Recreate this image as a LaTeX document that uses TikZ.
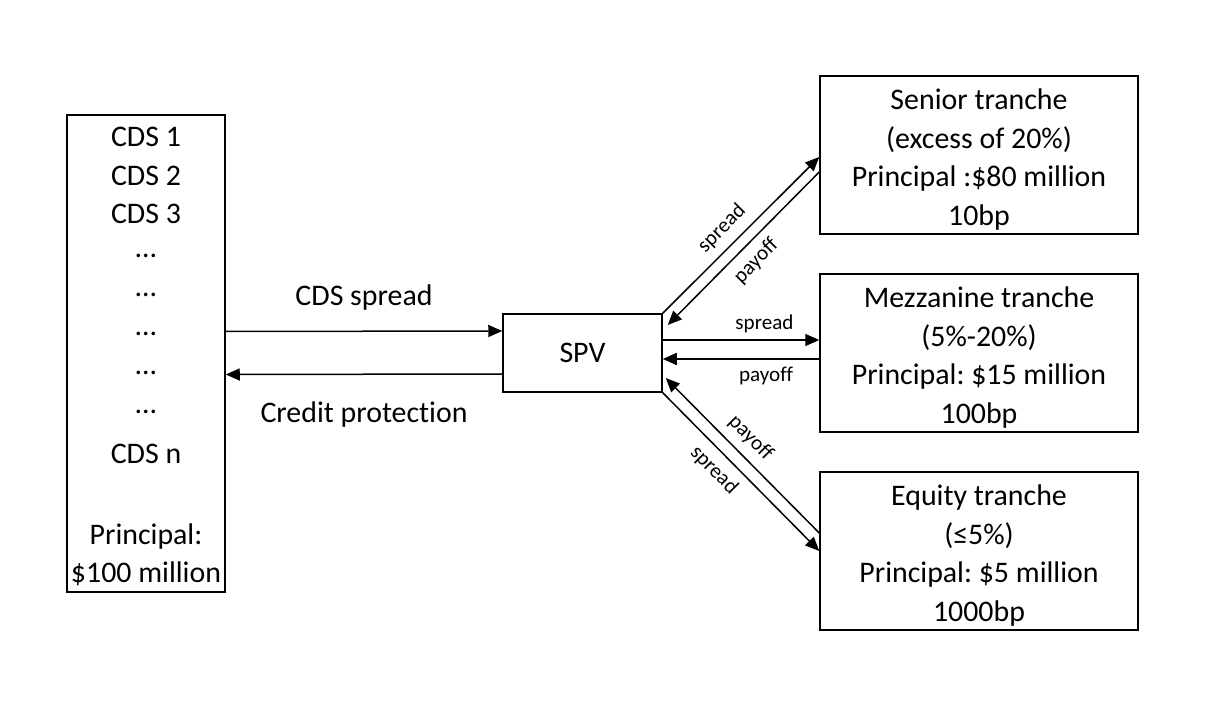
\documentclass[tikz,border=0pt]{standalone}
\usepackage{fontspec}
\setmainfont{Carlito}[Ligatures=NoCommon]
\frenchspacing
\usetikzlibrary{arrows.meta}
\tikzset{
  >={Triangle[length=2.8mm,width=2.4mm]},
  bigtext/.style={font=\fontsize{17pt}{22pt}\selectfont},
  smalltext/.style={font=\fontsize{12pt}{14pt}\selectfont},
  box/.style={draw, bigtext, align=center, inner sep=0pt},
  tranche/.style={box, minimum width=63.6mm, minimum height=31.6mm},
}

\begin{document}
\begin{tikzpicture}[x=0.2mm, y=-0.2mm, line width=0.3mm]
		\useasboundingbox[fill=white] (0,0) rectangle (1213,703);
		
		%%%%% BOXES %%%%%
		\node[box, minimum width=31.6mm, minimum height=95.4mm] (cds) at (146,353.5) {};
		\foreach \y/\t in {147/CDS 1, 186/CDS 2, 224/CDS 3, 258/…, 297/…, 336/…, 375/…, 414/…, 464/CDS n, 544/Principal:, 582/\$100 million}
			\node[bigtext, anchor=base] (cdsline\y) at (146,\y) {\t};
		
		\node[box, minimum width=31.8mm, minimum height=15.6mm] (spv) at (582.5,353) {SPV};
		
		\node[tranche] (senior) at (979,155) {\rule{0pt}{6mm}Senior tranche\\(excess of 20\%)\\Principal :\$80 million\\10bp};
		\node[tranche] (mezz) at (979,353) {\rule{0pt}{6mm}Mezzanine tranche\\(5\%-20\%)\\Principal: \$15 million\\100bp};
		\node[tranche] (equity) at (979,551) {\rule{0pt}{6mm}Equity tranche\\(≤5\%)\\Principal: \$5 million\\1000bp};
		
		%%%%% ARROWS %%%%%
		\draw[->] ([yshift=4.4mm]cds.east) -- ([yshift=4.4mm]spv.west)
			node[midway, bigtext, anchor=base, yshift=5.2mm] (lblcds) {CDS spread};
		\draw[<-] ([yshift=-4.2mm]cds.east) -- ([yshift=-4.2mm]spv.west)
			node[midway, bigtext, anchor=base, yshift=-9.6mm] (lblprot) {Credit protection};
		
		% senior
		\draw[->] (spv.north east) -- ([yshift=-0.4mm]senior.west)
			node[pos=0.46, sloped, above=0.5mm, smalltext] (lblsenspread) {spread};
		\draw[<-] ([shift={(1mm,5.6mm)}]spv.east) -- ([yshift=-3.4mm]senior.west)
			node[midway, sloped, below=0.5mm, smalltext] (lblsenpay) {payoff};
		
		% mezzanine
		\draw[->] ([yshift=2.6mm]spv.east) -- ([yshift=2.6mm]mezz.west)
			node[pos=0.65, above, smalltext] (lblmezspread) {spread};
		\draw[<-] ([yshift=-1.2mm]spv.east) -- ([yshift=-1.2mm]mezz.west)
			node[pos=0.66, below=0.3mm, smalltext] (lblmezpay) {payoff};
		
		% equity
		\draw[<-] ([shift={(0.6mm,-5mm)}]spv.east) -- ([yshift=3.6mm]equity.west)
			node[pos=0.47, sloped, above=0.5mm, smalltext] (lbleqpay) {payoff};
		\draw[->] (spv.south east) -- (equity.west)
			node[pos=0.41, sloped, below=0.5mm, smalltext] (lbleqspread) {spread};
		
	\end{tikzpicture}
\end{document}
